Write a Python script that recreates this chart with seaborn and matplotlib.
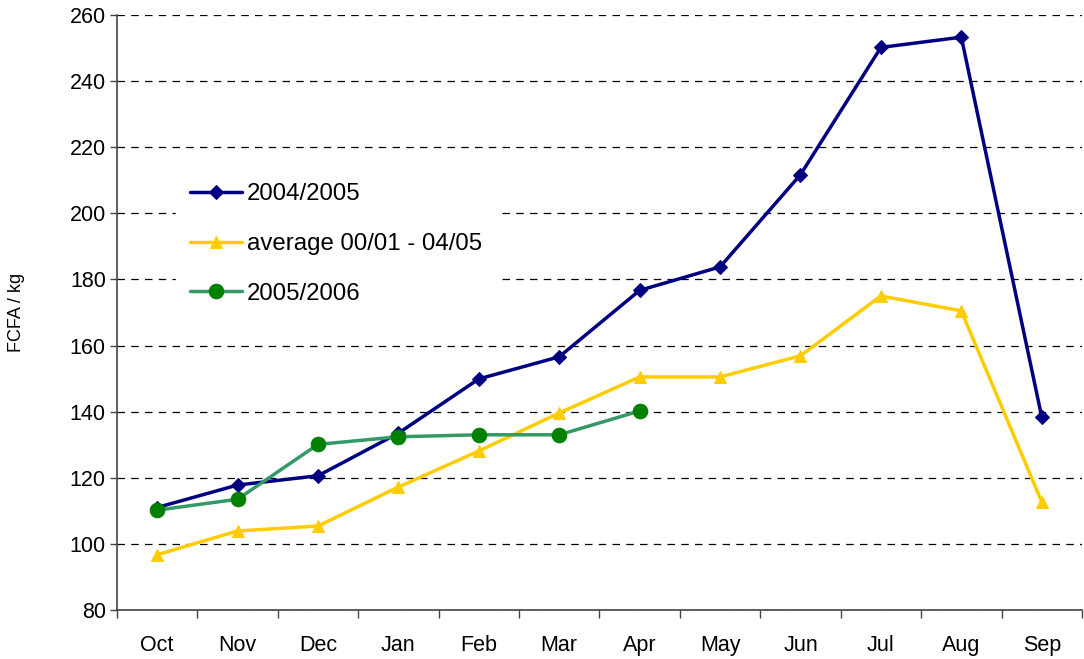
import numpy as np
import pandas as pd
import matplotlib
matplotlib.use("Agg")
import matplotlib.pyplot as plt
from matplotlib.ticker import FixedLocator
import seaborn as sns

months = ["Oct", "Nov", "Dec", "Jan", "Feb", "Mar", "Apr", "May", "Jun", "Jul", "Aug", "Sep"]
s2004 = [111.0, 117.8, 120.6, 133.5, 149.9, 156.6, 176.7, 183.8, 211.7, 250.2, 253.3, 138.4]
s_avg = [96.7, 103.9, 105.4, 117.2, 128.1, 139.6, 150.5, 150.5, 156.9, 175.0, 170.5, 112.7]
s2005 = [110.2, 113.5, 130.1, 132.4, 133.0, 133.0, 140.2]
labels = ["2004/2005", "average 00/01 - 04/05", "2005/2006"]
yticks = [80, 100, 120, 140, 160, 180, 200, 220, 240, 260]

sns.set_theme(style="white")
plt.rcParams['font.family'] = ['Liberation Sans', 'DejaVu Sans']

fig = plt.figure(figsize=(10.84, 6.59), dpi=100)
ax = fig.add_axes([0.1079, 0.0744, 0.8902, 0.9028])

def frame(vals):
    return pd.DataFrame({"x": np.arange(len(vals)), "y": vals})

sns.lineplot(data=frame(s2004), x="x", y="y", ax=ax, color="#000080", lw=2.5,
             marker="D", markersize=7, markeredgecolor="#000080", label=labels[0])
sns.lineplot(data=frame(s_avg), x="x", y="y", ax=ax, color="#FFCC00", lw=2.5,
             marker="^", markersize=9, markeredgecolor="#FFCC00", label=labels[1])
sns.lineplot(data=frame(s2005), x="x", y="y", ax=ax, color="#339966", lw=2.5,
             marker="o", markersize=10.5, markerfacecolor="#008000",
             markeredgecolor="#008000", label=labels[2])

ax.set_xlim(-0.5, len(months) - 0.5)
ax.set_ylim(80, 260)
ax.set_yticks(yticks)
ax.yaxis.grid(True, color="black", linestyle=(0, (6, 5)), linewidth=0.9)
ax.xaxis.grid(False)
ax.set_axisbelow(True)

ax.set_xticks(np.arange(len(months)))
ax.set_xticklabels(months)
ax.xaxis.set_minor_locator(FixedLocator(np.arange(-0.5, len(months), 1.0)))
ax.tick_params(axis="x", which="major", length=0, pad=18, labelsize=15.5, colors="black")
ax.tick_params(axis="x", which="minor", length=6, width=1, color="#444444", direction="out", bottom=True)
ax.tick_params(axis="y", which="major", length=5, width=1, color="#444444", direction="out",
               left=True, labelsize=15.5, colors="black", pad=3)

for side in ["top", "right"]:
    ax.spines[side].set_visible(False)
for side in ["left", "bottom"]:
    ax.spines[side].set_color("#444444")
    ax.spines[side].set_linewidth(1.2)

ax.set_xlabel("")
ax.set_ylabel("FCFA / kg", fontsize=13, color="black", labelpad=32)

leg = ax.legend(loc="upper left", bbox_to_anchor=(0.0486, 0.7615), fontsize=17.3,
                frameon=True, facecolor="white", edgecolor="white", framealpha=1,
                handlelength=2.17, handletextpad=0.2, labelspacing=1.15,
                borderpad=0.6, fancybox=False)
for t in leg.get_texts():
    t.set_color("black")

fig.savefig("out.png", dpi=100)
